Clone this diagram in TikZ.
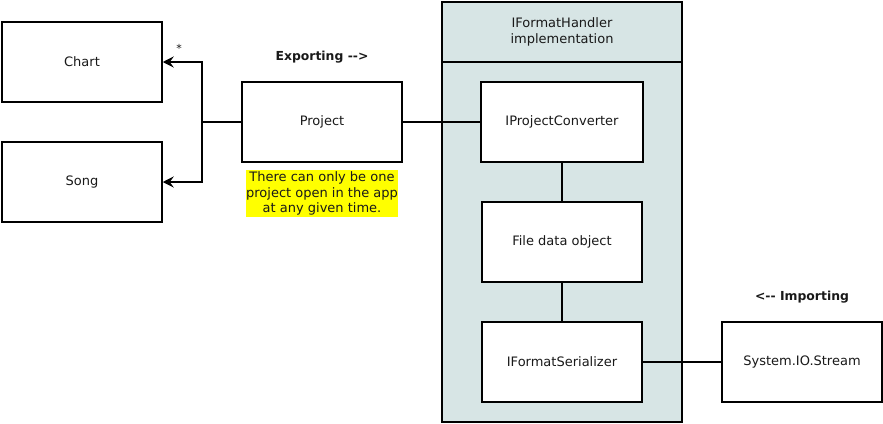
\documentclass[tikz,border=0pt]{standalone}
\usepackage{fontspec}
\setmainfont{DejaVu Sans}
\usetikzlibrary{arrows.meta}
\definecolor{contfill}{HTML}{D7E5E5}
\definecolor{notefill}{HTML}{FFFF00}
\begin{document}
\begin{tikzpicture}[x=1pt,y=-1pt,
  every node/.style={font=\fontsize{13}{15.7}\selectfont, inner sep=0pt, text=black!90},
  umlbox/.style={draw=black, line width=1.5pt, fill=white, minimum width=160pt, minimum height=80pt},
  conn/.style={line width=1.5pt},
  arr/.style={conn, -{Stealth[length=11pt,width=11pt,inset=4pt]}},
  boldlabel/.style={font=\fontsize{12.4}{15}\selectfont\bfseries}]
\useasboundingbox (0,0) rectangle (883,423);
% container
\node[draw=black, line width=1.5pt, outer sep=0pt, fill=contfill, minimum width=240pt, minimum height=420pt, anchor=north west] (cont) at (442,2) {};
\coordinate (hl) at (442,62);
\coordinate (hr) at (682,62);
\draw[conn] (hl) -- (hr);
\node[align=center] (conttitle) at (562,32) {IFormatHandler\\implementation};
% boxes
\node[umlbox] (chart) at (82,62) {Chart};
\node[umlbox] (song) at (82,182) {Song};
\node[umlbox] (project) at (322,122) {Project};
\node[umlbox, minimum width=162pt] (conv) at (562,122) {IProjectConverter};
\node[umlbox] (file) at (562,242) {File data object};
\node[umlbox] (ser) at (562,362) {IFormatSerializer};
\node[umlbox] (stream) at (802,362) {System.IO.Stream};
% labels
\node[boldlabel] (exp) at (322,57) {Exporting -{}->};
\node[boldlabel] (imp) at (802,297) {<-{}- Importing};
\node[fill=notefill, align=center, minimum width=150pt, minimum height=47pt] (note) at (322,193.5) {There can only be one\\project open in the app\\at any given time.};
\node[font=\fontsize{11}{12}\selectfont] (star) at (179,48) {*};
% connectors
\coordinate (j) at (202,122);
\draw[conn] (project.west) -- (j);
\draw[arr] (j) |- (chart.east);
\draw[arr] (j) |- (song.east);
\draw[conn] (project.east) -- (conv.west);
\draw[conn] (conv.south) -- (file.north);
\draw[conn] (file.south) -- (ser.north);
\draw[conn] (ser.east) -- (stream.west);
\end{tikzpicture}
\end{document}
